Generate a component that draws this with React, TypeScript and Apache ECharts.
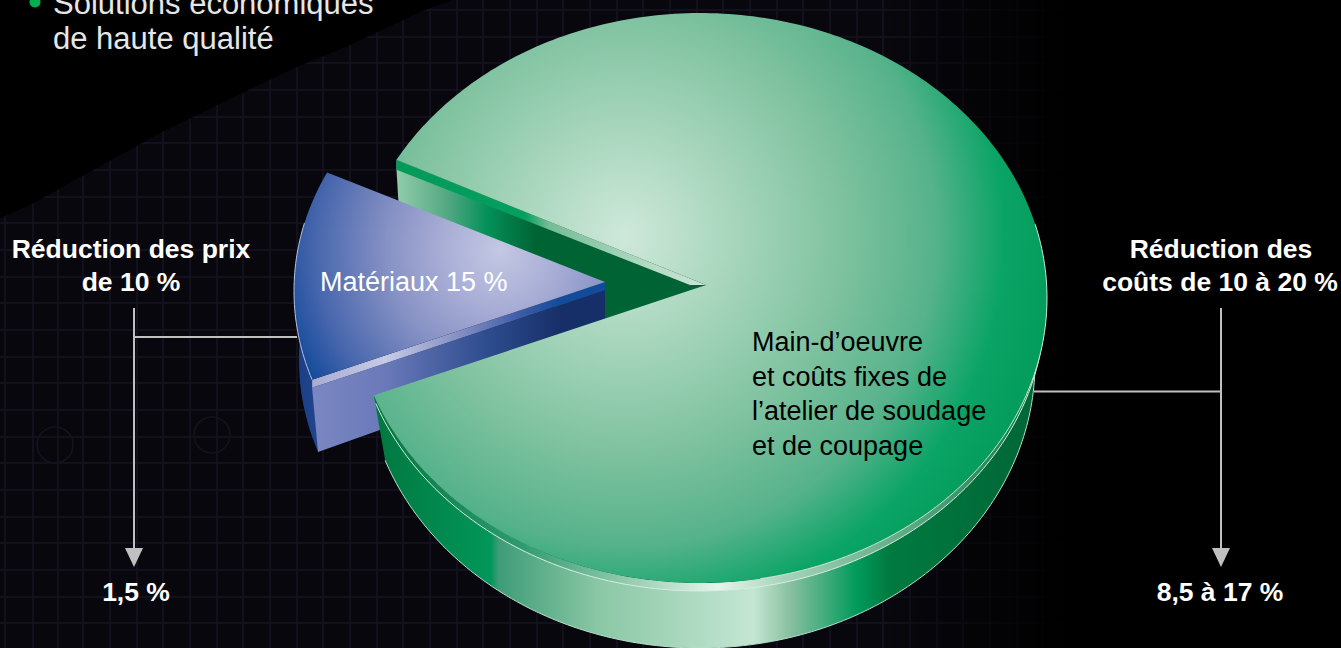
import React, { useEffect, useRef } from "react";
import * as echarts from "echarts";

const sliceNames = ["Main-d’oeuvre et coûts fixes de l’atelier de soudage et de coupage", "Matériaux"];
const sliceShares = [85, 15];
const materialLabel = "Matériaux 15 %";
const labourLines = ["Main-d’oeuvre", "et coûts fixes de", "l’atelier de soudage", "et de coupage"];
const leftHeader = ["Réduction des prix", "de 10 %"];
const rightHeader = ["Réduction des", "coûts de 10 à 20 %"];
const leftResult = "1,5 %";
const rightResult = "8,5 à 17 %";
const bulletLines = ["Solutions économiques", "de haute qualité"];

const W = 1341, H = 648;
const FONT = '"Liberation Sans", Arial, sans-serif';
const WEDGE_START = 209;
const FORESHORTEN = 0.907;
const BLUE_START = 206.9;
const BLUE_FORESHORTEN = 0.865;
const sweepOf = (share: number, k = FORESHORTEN) => (share / 100) * 360 * k;

const rad = (d: number) => (d * Math.PI) / 180;
const arc = (cx: number, cy: number, rx: number, ry: number, t0: number, t1: number) => {
  const pts: number[][] = [];
  const n = Math.max(2, Math.ceil(Math.abs(t1 - t0)));
  for (let i = 0; i <= n; i++) {
    const t = rad(t0 + ((t1 - t0) * i) / n);
    pts.push([cx + rx * Math.cos(t), cy + ry * Math.sin(t)]);
  }
  return pts;
};
const lin = (x0: number, y0: number, x1: number, y1: number, stops: [number, string][]) =>
  new echarts.graphic.LinearGradient(x0, y0, x1, y1, stops.map(([offset, color]) => ({ offset, color })), true);
const radial = (x: number, y: number, r: number, stops: [number, string][]) =>
  new echarts.graphic.RadialGradient(x, y, r, stops.map(([offset, color]) => ({ offset, color })), true);
const poly = (points: number[][], fill: any, extra: any = {}) => ({
  type: "polygon",
  shape: { points },
  style: { fill, ...extra },
  silent: true,
});
const pline = (points: number[][], stroke: string, lineWidth = 1) => ({
  type: "polyline",
  shape: { points },
  style: { stroke, lineWidth, fill: "none" },
  silent: true,
});

const G = { ax: 706, ay: 285, cx: 700, cy: 298, rx: 347, ry: 285 };
const B = { ax: 605, ay: 282, cx: 600, cy: 291, rx: 306, ry: 262 };

const greenBack = (params: any, api: any) => {
  const rimTop = arc(G.cx, G.cy, G.rx, G.ry, WEDGE_START, WEDGE_START)[0];
  return {
    type: "group",
    children: [
      poly(
        [rimTop, [G.ax, G.ay], [605, 322], [402, 262], [rimTop[0], rimTop[1] + 10]],
        lin(398, 0, 560, 0, [
          [0, "#8fcba9"],
          [0.3, "#55a884"],
          [0.55, "#04905a"],
          [0.85, "#006334"],
          [1, "#006334"],
        ])
      ),
      poly(
        [rimTop, [G.ax, G.ay], [690, 285], [rimTop[0], rimTop[1] + 10]],
        lin(398, 0, 700, 0, [
          [0, "#019a58"],
          [0.42, "#04a060"],
          [0.5, "#74bd96"],
          [0.85, "#b7dcc8"],
          [1, "#c6e4d4"],
        ])
      ),
    ],
  };
};

const blueSlice = (params: any, api: any) => {
  const sweep = sweepOf(api.value(0), BLUE_FORESHORTEN);
  const t0 = BLUE_START;
  const t1 = t0 - sweep;
  const top = arc(B.cx, B.cy, B.rx, B.ry, t0, t1);
  const c = top[top.length - 1];
  const lowerOuter = arc(B.cx, B.cy + 69, 301, B.ry, t1 - 1, 190);
  const upperOuter = arc(B.cx, B.cy, B.rx, B.ry, 190, t1);
  return {
    type: "group",
    children: [
      poly([...lowerOuter, ...upperOuter], lin(297, 0, 320, 0, [[0, "#1b3f86"], [1, "#21468f"]])),
      poly(
        [[c[0], c[1] + 8], [B.ax, B.ay + 8], [B.ax, 350], [318, 452]],
        lin(312, 0, 605, 0, [
          [0, "#7a87c2"],
          [0.25, "#6a79b9"],
          [0.6, "#2d4c8e"],
          [0.85, "#172f68"],
          [1, "#172f68"],
        ])
      ),
      poly(
        [c, [B.ax, B.ay], [B.ax, B.ay + 8], [c[0], c[1] + 8]],
        lin(312, 0, 605, 0, [
          [0, "#a7acd3"],
          [0.25, "#c6cbe7"],
          [0.5, "#8490c4"],
          [0.72, "#3a5aa5"],
          [0.85, "#144a9c"],
          [1, "#144a9c"],
        ])
      ),
      poly(
        [[B.ax, B.ay], ...top],
        radial(500, 250, 228, [
          [0, "#c4c8e3"],
          [0.25, "#a9aed6"],
          [0.5, "#8691c4"],
          [0.8, "#4a68ae"],
          [1, "#144a9a"],
        ])
      ),
      pline(arc(B.cx, B.cy, B.rx, B.ry, 195, t1), "#b9bfdc", 1),
      {
        type: "text",
        x: 320,
        y: 282,
        style: { text: materialLabel, fill: "#ffffff", font: `27px ${FONT}`, verticalAlign: "middle" },
        silent: true,
      },
    ],
  };
};

const greenFront = (params: any, api: any) => {
  const sweep = 360 - sweepOf(100 - api.value(0));
  const t0 = WEDGE_START;
  const t1 = t0 + sweep;
  const tEnd = t1 - 360;
  const rim = arc(G.cx, G.cy, G.rx, G.ry, t0, t1);
  const wallGrad = lin(373, 0, 1035, 0, [
    [0, "#00773f"],
    [0.178, "#02965a"],
    [0.19, "#3f9c78"],
    [0.34, "#8ac7a5"],
    [0.575, "#c4e6d3"],
    [0.63, "#88c0a0"],
    [0.73, "#029a5c"],
    [0.78, "#007a40"],
    [1, "#006636"],
  ]);
  const lipGrad = lin(373, 0, 1035, 0, [
    [0, "#00773f"],
    [0.22, "#2c9a6e"],
    [0.4, "#9ed0b5"],
    [0.52, "#e6f4ec"],
    [0.62, "#a8d3bb"],
    [0.85, "#4c9f78"],
    [1, "#047a46"],
  ]);
  const wallTop = arc(G.cx, G.cy, G.rx, G.ry, tEnd, 0);
  const wallBottom = arc(G.cx, G.cy + 65, 335, G.ry, 0, tEnd);
  const lipTop = arc(G.cx, G.cy, G.rx, G.ry, 0, tEnd);
  const lipBottom = arc(G.cx, G.cy + 8, 345, G.ry, tEnd, 0);
  return {
    type: "group",
    children: [
      poly([...wallTop, ...wallBottom], wallGrad),
      pline(wallBottom, "#b5dfc8", 1),
      poly([...lipTop, ...lipBottom], lipGrad),
      pline(lipBottom, "#d5eee0", 1),
      poly(
        [[G.ax, G.ay], ...rim],
        radial(625, 235, 445, [
          [0, "#cfe8da"],
          [0.25, "#a6d5bb"],
          [0.5, "#7dc19f"],
          [0.7, "#55b28a"],
          [0.85, "#0ba467"],
          [1, "#009a58"],
        ])
      ),
      pline(arc(G.cx, G.cy, G.rx, G.ry, 345, 440), "#c9e7d6", 1),
    ],
  };
};

// faint welding-plan backdrop
const gridXs = [5, 33, 58, 83, 110, 137, 163, 190, 217, 243, 270, 297, 323, 350, 377, 403, 430, 457, 483, 510, 537, 563, 590, 617, 643, 670, 697, 723, 750, 777, 803, 830, 857, 883, 910, 937, 963, 990, 1017, 1043, 1070];
const gridYs = [10, 37, 63, 90, 117, 143, 170, 197, 223, 250, 277, 303, 330, 357, 383, 410, 437, 463, 490, 517, 543, 570, 597, 623];

const backdrop = [
  { type: "rect", shape: { x: 0, y: 0, width: W, height: H }, style: { fill: "#08070d" }, z: -5, silent: true },
  ...gridXs.map((x) => ({
    type: "line",
    shape: { x1: x, y1: 0, x2: x, y2: H },
    style: { stroke: "#141320", lineWidth: 2, opacity: 0.8 },
    z: -4,
    silent: true,
  })),
  ...gridYs.map((y) => ({
    type: "line",
    shape: { x1: 0, y1: y, x2: 1100, y2: y },
    style: { stroke: "#141320", lineWidth: 2, opacity: 0.8 },
    z: -4,
    silent: true,
  })),
  { type: "circle", shape: { cx: 212, cy: 435, r: 18 }, style: { fill: "none", stroke: "#15141d", lineWidth: 1.5 }, z: -4, silent: true },
  { type: "circle", shape: { cx: 55, cy: 445, r: 18 }, style: { fill: "none", stroke: "#15141d", lineWidth: 1.5 }, z: -4, silent: true },
  {
    type: "polygon",
    shape: { points: [[0, 0], [452, 0], [420, 12], [350, 45], [290, 70], [160, 133], [30, 205], [0, 218]] },
    style: { fill: "#000000" },
    z: -3,
    silent: true,
  },
  {
    type: "rect",
    shape: { x: 880, y: 0, width: W - 880, height: H },
    style: { fill: lin(880, 0, 1070, 0, [[0, "rgba(0,0,0,0)"], [1, "#000000"]]) },
    z: -3,
    silent: true,
  },
];

const text = (x: number, y: number, t: string, opts: any = {}) => ({
  type: "text",
  x,
  y,
  z: 10,
  silent: true,
  style: {
    text: t,
    fill: opts.fill || "#ffffff",
    font: `${opts.weight || "bold"} ${opts.size || 26.5}px ${FONT}`,
    align: opts.align || "center",
    verticalAlign: "middle",
  },
});
const rule = (x1: number, y1: number, x2: number, y2: number, lineWidth = 2) => ({
  type: "line",
  z: 10,
  silent: true,
  shape: { x1, y1, x2, y2 },
  style: { stroke: "#c0c0c0", lineWidth },
});
const head = (x: number) => ({
  type: "polygon",
  z: 10,
  silent: true,
  shape: { points: [[x - 9, 548], [x + 9, 548], [x, 567]] },
  style: { fill: "#c0c0c0" },
});

const foreground = [
  rule(134, 308, 134, 550),
  rule(134, 337, 297, 337),
  head(134),
  rule(1221, 308, 1221, 550),
  rule(1034, 391.5, 1221, 391.5),
  head(1221),
  text(131, 249, leftHeader[0]),
  text(131, 282, leftHeader[1]),
  text(1221, 249, rightHeader[0]),
  text(1220, 282, rightHeader[1]),
  text(136, 592, leftResult),
  text(1220, 592, rightResult),
  ...labourLines.map((l, i) => text(752, 342 + i * 34.7, l, { align: "left", fill: "#000000", weight: "normal", size: 27 })),
  { type: "circle", z: 10, silent: true, shape: { cx: 35, cy: 2, r: 5.5 }, style: { fill: "#00b050" } },
  text(53, 3, bulletLines[0], { align: "left", weight: "normal", size: 31, fill: "#e6e6e6" }),
  text(53, 38, bulletLines[1], { align: "left", weight: "normal", size: 31, fill: "#e6e6e6" }),
];

export default function App() {
  const ref = useRef<HTMLDivElement>(null);
  useEffect(() => {
    document.body.style.margin = "0";
    document.body.style.background = "#000";
    const chart = echarts.init(ref.current!, null, { renderer: "svg" });
    chart.setOption({
      animation: false,
      backgroundColor: "#000000",
      graphic: { elements: [...backdrop, ...foreground] },
      series: [
        { type: "custom", coordinateSystem: "none", name: sliceNames[0] + " (fond)", z: 2, data: [[sliceShares[0]]], renderItem: greenBack, silent: true },
        { type: "custom", coordinateSystem: "none", name: sliceNames[1], z: 3, data: [[sliceShares[1]]], renderItem: blueSlice, silent: true },
        { type: "custom", coordinateSystem: "none", name: sliceNames[0], z: 4, data: [[sliceShares[0]]], renderItem: greenFront, silent: true },
      ],
    });
    return () => chart.dispose();
  }, []);
  return <div ref={ref} style={{ width: W, height: H, overflow: "hidden" }} />;
}
